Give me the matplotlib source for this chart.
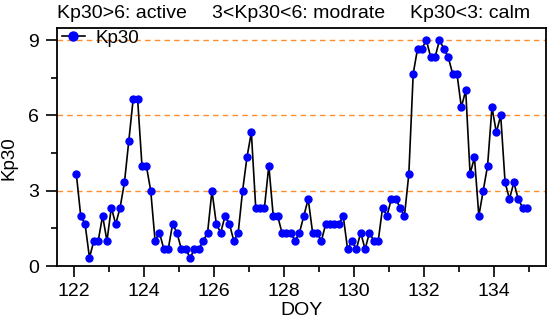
import numpy as np
import matplotlib
matplotlib.use("Agg")
import matplotlib.pyplot as plt
from matplotlib.ticker import MultipleLocator

plt.rcParams['font.family'] = ['Liberation Sans', 'DejaVu Sans']

start_doy = 122.0625
step = 0.125
kp30 = [3.67, 2.0, 1.67, 0.33, 1.0, 1.0, 2.0, 1.0, 2.33, 1.67,
        2.33, 3.33, 5.0, 6.67, 6.67, 4.0, 4.0, 3.0, 1.0, 1.33,
        0.67, 0.67, 1.67, 1.33, 0.67, 0.67, 0.33, 0.67, 0.67, 1.0,
        1.33, 3.0, 1.67, 1.33, 2.0, 1.67, 1.0, 1.33, 3.0, 4.33,
        5.33, 2.33, 2.33, 2.33, 4.0, 2.0, 2.0, 1.33, 1.33, 1.33,
        1.0, 1.33, 2.0, 2.67, 1.33, 1.33, 1.0, 1.67, 1.67, 1.67,
        1.67, 2.0, 0.67, 1.0, 0.67, 1.33, 0.67, 1.33, 1.0, 1.0,
        2.33, 2.0, 2.67, 2.67, 2.33, 2.0, 3.67, 7.67, 8.67, 8.67,
        9.0, 8.33, 8.33, 9.0, 8.67, 8.33, 7.67, 7.67, 6.33, 7.0,
        3.67, 4.33, 2.0, 3.0, 4.0, 6.33, 5.33, 6.0, 3.33, 2.67,
        3.33, 2.67, 2.33, 2.33]
doy = start_doy + step * np.arange(len(kp30))
levels = [3, 6, 9]
xticks = [122, 124, 126, 128, 130, 132, 134]
yticks = [0, 3, 6, 9]
headers = ["Kp30>6: active", "3<Kp30<6: modrate", "Kp30<3: calm"]

fig = plt.figure(figsize=(5.5, 3.24), dpi=100)
ax = fig.add_axes([0.103, 0.179, 0.889, 0.7355])

for lv in levels:
    ax.axhline(lv, color='#FF8F2E', lw=1.0, ls=(0, (4, 3)), zorder=1)

ax.plot(doy, kp30, '-o', color='black', lw=1.2, markerfacecolor='blue',
        markeredgecolor='blue', markersize=5.0, label='Kp30', zorder=3)

ax.set_xlim(121.5, 135.47)
ax.set_ylim(0, 9.5)
ax.set_xticks(xticks)
ax.set_yticks(yticks)
ax.xaxis.set_minor_locator(MultipleLocator(1))
ax.yaxis.set_minor_locator(MultipleLocator(1.5))
ax.tick_params(which='major', direction='out', length=8, width=1.2,
               labelsize=14, pad=4.5)
ax.tick_params(which='minor', direction='out', length=4.5, width=1.2)
for s in ax.spines.values():
    s.set_linewidth(1.3)

ax.set_xlabel('DOY', fontsize=14, labelpad=1)
ax.set_ylabel('Kp30', fontsize=13.5)
ax.yaxis.set_label_coords(-0.081, 0.453)

leg = ax.legend(loc='center left', bbox_to_anchor=(0.011, 0.957),
                frameon=False, fontsize=13.5, handlelength=1.2,
                handletextpad=0.6, borderpad=0, borderaxespad=0,
                markerscale=1.3)

hx = [56.7 / 550, 211.7 / 550, 410 / 550]
for x, t in zip(hx, headers):
    fig.text(x, 0.9435, t, fontsize=14, ha='left', va='baseline')

fig.savefig('out.png', dpi=100)
